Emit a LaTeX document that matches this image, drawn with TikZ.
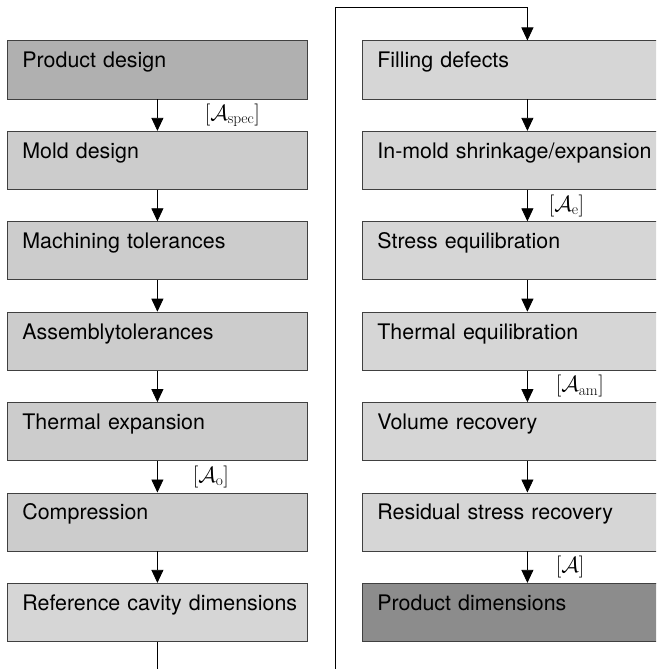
\documentclass[tikz,border=0pt]{standalone}
\usepackage{fix-cm}
\usepackage{fontspec}
\setsansfont{TeX Gyre Heros}
\usepackage{tikz}
\usetikzlibrary{positioning}
\usetikzlibrary{arrows.meta}
\definecolor{darkbox}{gray}{0.69}
\definecolor{midbox}{gray}{0.80}
\definecolor{lightbox}{gray}{0.84}
\definecolor{endbox}{gray}{0.55}

\begin{document}
\begin{tikzpicture}[x=1pt,y=-1pt,
  node distance=31.6pt,
  box/.style={rectangle,draw=black!75,line width=0.8pt,inner xsep=15pt,inner ysep=8pt,
    text width=270pt,align=left,text height=19pt,text depth=23pt,
    font=\sffamily\fontsize{21.4}{24}\selectfont},
  rbox/.style={box,text width=300pt},
  flow/.style={-{Triangle[length=13pt,width=12pt]},line width=0.8pt},
  lbl/.style={anchor=west,inner sep=0pt,font=\fontsize{22}{26}\selectfont}]
  \useasboundingbox (0,0) rectangle (656,669);
  \clip (0,0) rectangle (656,669);

  % left column
  \node[box,fill=darkbox,anchor=north west] (prod) at (7,40.5) {Product design};
  \node[box,fill=midbox,below=of prod] (mold) {Mold design};
  \node[box,fill=midbox,below=of mold] (mach) {Machining tolerances};
  \node[box,fill=midbox,below=of mach] (assy) {Assemblytolerances};
  \node[box,fill=midbox,below=of assy] (thexp) {Thermal expansion};
  \node[box,fill=midbox,below=of thexp] (comp) {Compression};
  \node[box,fill=lightbox,below=of comp] (refcav) {\mbox{Reference cavity dimensions}};

  % right column
  \node[rbox,fill=lightbox,anchor=north west] (fill) at (362,40.5) {Filling defects};
  \node[rbox,fill=lightbox,below=of fill] (shrink) {In-mold shrinkage/expansion};
  \node[rbox,fill=lightbox,below=of shrink] (stress) {Stress equilibration};
  \node[rbox,fill=lightbox,below=of stress] (theq) {Thermal equilibration};
  \node[rbox,fill=lightbox,below=of theq] (vol) {Volume recovery};
  \node[rbox,fill=lightbox,below=of vol] (resid) {Residual stress recovery};
  \node[rbox,fill=endbox,below=of resid] (pdim) {Product dimensions};

  \draw[flow] (prod) -- node[lbl,xshift=47pt] {$[\mathcal{A}_{\mathrm{spec}}]$} (mold);
  \draw[flow] (mold) -- (mach);
  \draw[flow] (mach) -- (assy);
  \draw[flow] (assy) -- (thexp);
  \draw[flow] (thexp) -- node[lbl,xshift=35pt] {$[\mathcal{A}_{\mathrm{o}}]$} (comp);
  \draw[flow] (comp) -- (refcav);

  % loop back to the top of the right column
  \coordinate (loopbot) at (335,690);
  \coordinate (looptop) at (335,7);
  \draw[flow] (refcav.south) |- (loopbot) -- (looptop) -| (fill.north);

  \draw[flow] (fill) -- (shrink);
  \draw[flow] (shrink) -- node[lbl,xshift=21pt] {$[\mathcal{A}_{\mathrm{e}}]$} (stress);
  \draw[flow] (stress) -- (theq);
  \draw[flow] (theq) -- node[lbl,xshift=28pt] {$[\mathcal{A}_{\mathrm{am}}]$} (vol);
  \draw[flow] (vol) -- (resid);
  \draw[flow] (resid) -- node[lbl,xshift=28pt] {$[\mathcal{A}]$} (pdim);
\end{tikzpicture}
\end{document}
